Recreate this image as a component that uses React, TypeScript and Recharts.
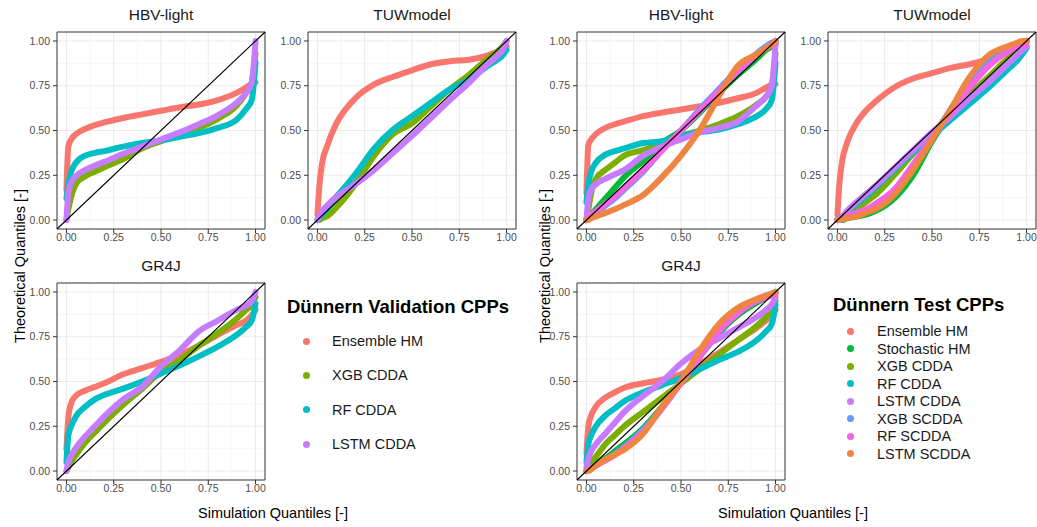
import React from 'react';
import { CartesianGrid, Line, LineChart, ReferenceArea, ReferenceLine, XAxis, YAxis } from 'recharts';

// simulation quantiles shared by every curve (x axis)
const quantiles = [0, 0.01, 0.025, 0.05, 0.1, 0.15, 0.2, 0.3, 0.4, 0.5, 0.6, 0.7, 0.8, 0.9, 0.95, 0.98, 1];
const majorTicks = [0, 0.25, 0.5, 0.75, 1];
const minorTicks = [0.125, 0.375, 0.625, 0.875];

// --- Validation CPPs: theoretical quantiles ---
const valHbvEnsemble = [0.17, 0.41, 0.45, 0.48, 0.51, 0.53, 0.545, 0.57, 0.59, 0.61, 0.63, 0.645, 0.67, 0.71, 0.74, 0.76, 0.77];
const valHbvXgb = [0.0, 0.06, 0.13, 0.2, 0.245, 0.27, 0.295, 0.34, 0.4, 0.44, 0.48, 0.515, 0.565, 0.64, 0.71, 0.77, 0.93];
const valHbvRf = [0.12, 0.2, 0.27, 0.32, 0.36, 0.375, 0.385, 0.41, 0.43, 0.445, 0.465, 0.485, 0.515, 0.56, 0.62, 0.67, 0.88];
const valHbvLstm = [0.0, 0.15, 0.21, 0.245, 0.28, 0.305, 0.325, 0.37, 0.41, 0.45, 0.49, 0.535, 0.585, 0.655, 0.71, 0.77, 1.0];

const valTuwEnsemble = [0.03, 0.19, 0.32, 0.41, 0.54, 0.62, 0.68, 0.757, 0.8, 0.836, 0.87, 0.887, 0.895, 0.92, 0.94, 0.955, 0.97];
const valTuwXgb = [0.0, 0.0, 0.01, 0.02, 0.07, 0.13, 0.2, 0.36, 0.48, 0.54, 0.635, 0.73, 0.81, 0.9, 0.94, 0.97, 1.0];
const valTuwRf = [0.0, 0.01, 0.03, 0.06, 0.13, 0.19, 0.255, 0.4, 0.505, 0.58, 0.655, 0.73, 0.785, 0.86, 0.895, 0.92, 0.95];
const valTuwLstm = [0.0, 0.02, 0.05, 0.08, 0.13, 0.165, 0.2, 0.28, 0.375, 0.47, 0.57, 0.67, 0.765, 0.87, 0.915, 0.95, 1.0];

const valGr4jEnsemble = [0.12, 0.3, 0.38, 0.42, 0.45, 0.47, 0.49, 0.54, 0.575, 0.61, 0.65, 0.7, 0.76, 0.815, 0.84, 0.87, 0.9];
const valGr4jXgb = [0.0, 0.02, 0.05, 0.09, 0.16, 0.215, 0.27, 0.37, 0.46, 0.555, 0.62, 0.7, 0.77, 0.85, 0.9, 0.93, 0.97];
const valGr4jRf = [0.05, 0.2, 0.25, 0.305, 0.36, 0.4, 0.425, 0.46, 0.5, 0.545, 0.59, 0.64, 0.695, 0.76, 0.805, 0.84, 0.935];
const valGr4jLstm = [0.0, 0.05, 0.085, 0.13, 0.195, 0.25, 0.305, 0.4, 0.47, 0.585, 0.675, 0.78, 0.84, 0.9, 0.925, 0.95, 1.0];

// --- Test CPPs: theoretical quantiles ---
const testHbvEnsemble = [0.15, 0.42, 0.45, 0.48, 0.515, 0.535, 0.55, 0.58, 0.6, 0.617, 0.635, 0.655, 0.68, 0.71, 0.74, 0.755, 0.76];
const testHbvStochastic = [0.0, 0.01, 0.03, 0.06, 0.12, 0.18, 0.24, 0.33, 0.43, 0.5, 0.6, 0.71, 0.81, 0.9, 0.95, 0.97, 0.98];
const testHbvXgb = [0.0, 0.06, 0.15, 0.23, 0.28, 0.32, 0.36, 0.39, 0.43, 0.47, 0.5, 0.535, 0.58, 0.645, 0.69, 0.75, 0.93];
const testHbvRf = [0.1, 0.2, 0.27, 0.32, 0.365, 0.385, 0.4, 0.43, 0.44, 0.47, 0.49, 0.505, 0.535, 0.58, 0.62, 0.67, 0.88];
const testHbvLstm = [0.0, 0.12, 0.17, 0.2, 0.23, 0.255, 0.28, 0.36, 0.41, 0.45, 0.49, 0.515, 0.55, 0.64, 0.69, 0.75, 0.99];
const testHbvXgbS = [0.0, 0.01, 0.02, 0.04, 0.08, 0.12, 0.17, 0.27, 0.39, 0.5, 0.62, 0.73, 0.84, 0.93, 0.97, 0.99, 1.0];
const testHbvRfS = [0.0, 0.01, 0.03, 0.05, 0.09, 0.13, 0.18, 0.28, 0.39, 0.5, 0.61, 0.72, 0.83, 0.92, 0.96, 0.98, 0.99];
const testHbvLstmS = [0.0, 0.0, 0.01, 0.02, 0.04, 0.06, 0.085, 0.14, 0.24, 0.36, 0.505, 0.69, 0.86, 0.925, 0.96, 0.98, 1.0];

const testTuwEnsemble = [0.03, 0.2, 0.33, 0.43, 0.54, 0.61, 0.66, 0.74, 0.79, 0.82, 0.85, 0.87, 0.9, 0.95, 0.97, 0.99, 1.0];
const testTuwStochastic = [0.0, 0.0, 0.0, 0.01, 0.02, 0.03, 0.05, 0.12, 0.25, 0.44, 0.6, 0.75, 0.87, 0.95, 0.98, 0.99, 1.0];
const testTuwXgb = [0.0, 0.0, 0.01, 0.02, 0.06, 0.1, 0.14, 0.25, 0.37, 0.48, 0.59, 0.7, 0.8, 0.9, 0.94, 0.96, 0.97];
const testTuwRf = [0.0, 0.01, 0.02, 0.04, 0.09, 0.13, 0.18, 0.28, 0.38, 0.47, 0.56, 0.65, 0.74, 0.84, 0.89, 0.93, 0.96];
const testTuwLstm = [0.0, 0.01, 0.02, 0.05, 0.1, 0.145, 0.19, 0.29, 0.39, 0.49, 0.58, 0.68, 0.77, 0.87, 0.92, 0.95, 0.97];
const testTuwXgbS = [0.0, 0.0, 0.01, 0.015, 0.03, 0.05, 0.07, 0.15, 0.3, 0.46, 0.62, 0.78, 0.89, 0.96, 0.98, 0.99, 1.0];
const testTuwRfS = [0.0, 0.0, 0.01, 0.02, 0.04, 0.06, 0.09, 0.17, 0.31, 0.46, 0.6, 0.74, 0.86, 0.94, 0.97, 0.98, 0.99];
const testTuwLstmS = [0.0, 0.0, 0.005, 0.01, 0.02, 0.04, 0.06, 0.14, 0.28, 0.45, 0.62, 0.8, 0.92, 0.97, 0.99, 1.0, 1.0];

const testGr4jEnsemble = [0.1, 0.25, 0.31, 0.36, 0.41, 0.44, 0.465, 0.49, 0.51, 0.54, 0.6, 0.66, 0.73, 0.8, 0.84, 0.87, 0.9];
const testGr4jStochastic = [0.0, 0.01, 0.02, 0.04, 0.07, 0.11, 0.15, 0.24, 0.36, 0.5, 0.64, 0.77, 0.87, 0.94, 0.97, 0.99, 1.0];
const testGr4jXgb = [0.0, 0.02, 0.05, 0.08, 0.15, 0.2, 0.25, 0.33, 0.41, 0.49, 0.57, 0.65, 0.73, 0.81, 0.86, 0.9, 0.95];
const testGr4jRf = [0.05, 0.15, 0.2, 0.25, 0.31, 0.35, 0.39, 0.44, 0.48, 0.52, 0.57, 0.62, 0.665, 0.73, 0.78, 0.82, 0.93];
const testGr4jLstm = [0.02, 0.07, 0.11, 0.15, 0.21, 0.27, 0.33, 0.42, 0.5, 0.6, 0.68, 0.74, 0.8, 0.86, 0.9, 0.93, 0.97];
const testGr4jXgbS = [0.0, 0.005, 0.015, 0.03, 0.06, 0.095, 0.135, 0.23, 0.35, 0.5, 0.65, 0.79, 0.89, 0.95, 0.98, 0.99, 1.0];
const testGr4jRfS = [0.0, 0.005, 0.015, 0.03, 0.06, 0.09, 0.13, 0.22, 0.35, 0.49, 0.64, 0.78, 0.88, 0.95, 0.97, 0.98, 0.99];
const testGr4jLstmS = [0.0, 0.0, 0.01, 0.03, 0.065, 0.09, 0.12, 0.21, 0.36, 0.5, 0.675, 0.82, 0.91, 0.96, 0.98, 0.99, 1.0];

const valSeries = [
  { key: 'ens', name: 'Ensemble HM', color: '#F8766D' },
  { key: 'xgb', name: 'XGB CDDA', color: '#7CAE00' },
  { key: 'rf', name: 'RF CDDA', color: '#00BFC4' },
  { key: 'lstm', name: 'LSTM CDDA', color: '#C77CFF' },
];

const testSeries = [
  { key: 'ens', name: 'Ensemble HM', color: '#F8766D' },
  { key: 'sto', name: 'Stochastic HM', color: '#00BA38' },
  { key: 'xgb', name: 'XGB CDDA', color: '#7CAE00' },
  { key: 'rf', name: 'RF CDDA', color: '#00BFC4' },
  { key: 'lstm', name: 'LSTM CDDA', color: '#C77CFF' },
  { key: 'xgbS', name: 'XGB SCDDA', color: '#619CFF' },
  { key: 'rfS', name: 'RF SCDDA', color: '#F564E3' },
  { key: 'lstmS', name: 'LSTM SCDDA', color: '#F08442' },
];

type Row = Record<string, number>;

const buildRows = (cols: Record<string, number[]>): Row[] =>
  quantiles.map((q, i) => {
    const row: Row = { x: q };
    Object.keys(cols).forEach((k) => {
      row[k] = cols[k][i];
    });
    return row;
  });

const PLOT_W = 208;
const PLOT_H = 197;
const Y_AXIS_W = 30;
const X_AXIS_H = 22;
const M_TOP = 2;
const M_RIGHT = 3;
const FONT = '"Liberation Sans", Arial, sans-serif';

const panels = [
  { title: 'HBV-light', left: 57, top: 32, series: valSeries, rows: buildRows({ ens: valHbvEnsemble, xgb: valHbvXgb, rf: valHbvRf, lstm: valHbvLstm }) },
  { title: 'TUWmodel', left: 308, top: 32, series: valSeries, rows: buildRows({ ens: valTuwEnsemble, xgb: valTuwXgb, rf: valTuwRf, lstm: valTuwLstm }) },
  { title: 'GR4J', left: 57, top: 283, series: valSeries, rows: buildRows({ ens: valGr4jEnsemble, xgb: valGr4jXgb, rf: valGr4jRf, lstm: valGr4jLstm }) },
  {
    title: 'HBV-light', left: 577, top: 32, series: testSeries,
    rows: buildRows({ ens: testHbvEnsemble, sto: testHbvStochastic, xgb: testHbvXgb, rf: testHbvRf, lstm: testHbvLstm, xgbS: testHbvXgbS, rfS: testHbvRfS, lstmS: testHbvLstmS }),
  },
  {
    title: 'TUWmodel', left: 828, top: 32, series: testSeries,
    rows: buildRows({ ens: testTuwEnsemble, sto: testTuwStochastic, xgb: testTuwXgb, rf: testTuwRf, lstm: testTuwLstm, xgbS: testTuwXgbS, rfS: testTuwRfS, lstmS: testTuwLstmS }),
  },
  {
    title: 'GR4J', left: 577, top: 283, series: testSeries,
    rows: buildRows({ ens: testGr4jEnsemble, sto: testGr4jStochastic, xgb: testGr4jXgb, rf: testGr4jRf, lstm: testGr4jLstm, xgbS: testGr4jXgbS, rfS: testGr4jRfS, lstmS: testGr4jLstmS }),
  },
];

const fmt = (v: number) => v.toFixed(2);
const tickStyle = { fontSize: 10.5, fill: '#4D4D4D', fontFamily: FONT };

interface PanelProps {
  title: string;
  left: number;
  top: number;
  rows: Row[];
  series: { key: string; name: string; color: string }[];
}

const Panel: React.FC<PanelProps> = ({ title, left, top, rows, series }) => (
  <>
    <div
      style={{
        position: 'absolute',
        left,
        width: PLOT_W,
        top: top - 26,
        textAlign: 'center',
        fontSize: 15.5,
        color: '#1A1A1A',
      }}
    >
      {title}
    </div>
    <div style={{ position: 'absolute', left: left - Y_AXIS_W, top: top - M_TOP }}>
      <LineChart
        width={Y_AXIS_W + PLOT_W + M_RIGHT}
        height={M_TOP + PLOT_H + X_AXIS_H}
        data={rows}
        margin={{ top: M_TOP, right: M_RIGHT, bottom: 0, left: 0 }}
      >
        <CartesianGrid horizontalValues={minorTicks} verticalValues={minorTicks} stroke="#F2F2F2" strokeWidth={0.6} />
        <CartesianGrid horizontalValues={majorTicks} verticalValues={majorTicks} stroke="#EBEBEB" strokeWidth={1.1} />
        <XAxis
          type="number"
          dataKey="x"
          domain={[-0.05, 1.05]}
          ticks={majorTicks}
          tickFormatter={fmt}
          interval={0}
          axisLine={false}
          tickLine={{ stroke: '#333333' }}
          tickSize={4}
          tickMargin={1}
          tick={tickStyle}
          height={X_AXIS_H}
          allowDataOverflow
        />
        <YAxis
          type="number"
          domain={[-0.05, 1.05]}
          ticks={majorTicks}
          tickFormatter={fmt}
          interval={0}
          axisLine={false}
          tickLine={{ stroke: '#333333' }}
          tickSize={4}
          tickMargin={3}
          tick={tickStyle}
          width={Y_AXIS_W}
          allowDataOverflow
        />
        {series.map((s) => (
          <Line
            key={s.key}
            type="monotone"
            dataKey={s.key}
            name={s.name}
            stroke={s.color}
            strokeWidth={6}
            strokeLinecap="round"
            strokeLinejoin="round"
            dot={false}
            activeDot={false}
            isAnimationActive={false}
          />
        ))}
        <ReferenceLine
          segment={[{ x: -0.05, y: -0.05 }, { x: 1.05, y: 1.05 }]}
          stroke="#000000"
          strokeWidth={1.1}
          ifOverflow="visible"
        />
        <ReferenceArea x1={-0.05} x2={1.05} y1={-0.05} y2={1.05} fill="none" fillOpacity={0} stroke="#333333" strokeWidth={1} ifOverflow="visible" />
      </LineChart>
    </div>
  </>
);

interface LegendProps {
  title: string;
  titleLeft: number;
  titleY: number;
  dotX: number;
  textX: number;
  firstY: number;
  step: number;
  series: { key: string; name: string; color: string }[];
}

const LegendBlock: React.FC<LegendProps> = ({ title, titleLeft, titleY, dotX, textX, firstY, step, series }) => (
  <>
    <div
      style={{
        position: 'absolute',
        left: titleLeft,
        top: titleY - 11,
        fontSize: 18.5,
        fontWeight: 'bold',
        color: '#000',
        whiteSpace: 'nowrap',
        lineHeight: '22px',
      }}
    >
      {title}
    </div>
    {series.map((s, i) => (
      <React.Fragment key={s.key}>
        <div
          style={{
            position: 'absolute',
            left: dotX - 3.5,
            top: firstY + i * step - 3.5,
            width: 7,
            height: 7,
            borderRadius: '50%',
            background: s.color,
          }}
        />
        <div
          style={{
            position: 'absolute',
            left: textX,
            top: firstY + i * step - 9,
            fontSize: 14.5,
            lineHeight: '18px',
            color: '#1A1A1A',
            whiteSpace: 'nowrap',
          }}
        >
          {s.name}
        </div>
      </React.Fragment>
    ))}
  </>
);

const AxisTitleX: React.FC<{ cx: number; cy: number }> = ({ cx, cy }) => (
  <div
    style={{
      position: 'absolute',
      left: cx,
      top: cy,
      transform: 'translate(-50%, -50%)',
      fontSize: 14.5,
      color: '#000',
      whiteSpace: 'nowrap',
    }}
  >
    Simulation Quantiles [-]
  </div>
);

const AxisTitleY: React.FC<{ cx: number; cy: number }> = ({ cx, cy }) => (
  <div
    style={{
      position: 'absolute',
      left: cx,
      top: cy,
      transform: 'translate(-50%, -50%) rotate(-90deg)',
      fontSize: 14.5,
      color: '#000',
      whiteSpace: 'nowrap',
    }}
  >
    Theoretical Quantiles [-]
  </div>
);

const App: React.FC = () => (
  <div
    style={{
      position: 'absolute',
      left: 0,
      top: 0,
      width: 1037,
      height: 527,
      background: '#FFFFFF',
      fontFamily: FONT,
      overflow: 'hidden',
    }}
  >
    {panels.map((p, i) => (
      <Panel key={i} {...p} />
    ))}
    <LegendBlock
      title="Dünnern Validation CPPs"
      titleLeft={287}
      titleY={307}
      dotX={306}
      textX={332}
      firstY={341}
      step={34.4}
      series={valSeries}
    />
    <LegendBlock
      title="Dünnern Test CPPs"
      titleLeft={833}
      titleY={305}
      dotX={850}
      textX={877}
      firstY={331}
      step={17.55}
      series={testSeries}
    />
    <AxisTitleX cx={273} cy={513} />
    <AxisTitleX cx={793} cy={513} />
    <AxisTitleY cx={20} cy={266} />
    <AxisTitleY cx={545} cy={266} />
  </div>
);

export default App;
